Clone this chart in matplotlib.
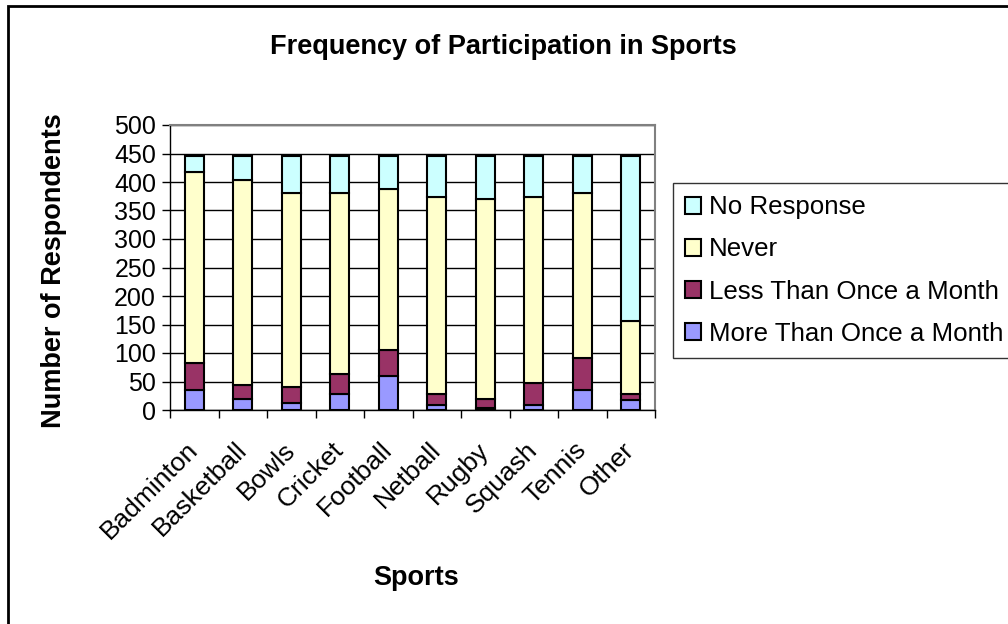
import numpy as np
import matplotlib.pyplot as plt
from matplotlib.patches import Rectangle

plt.rcParams['font.family'] = ['Liberation Sans', 'DejaVu Sans']

# Data
sports = ["Badminton", "Basketball", "Bowls", "Cricket", "Football",
          "Netball", "Rugby", "Squash", "Tennis", "Other"]
more_than_once = [35, 19, 13, 28, 60, 9, 3, 9, 35, 18]
less_than_once = [48, 25, 28, 35, 45, 19, 16, 38, 57, 10]
never = [334, 359, 340, 318, 282, 346, 352, 327, 289, 129]
no_response = [28, 42, 64, 64, 58, 71, 74, 71, 64, 288]

colors = {"More Than Once a Month": "#9999FF",
          "Less Than Once a Month": "#993366",
          "Never": "#FFFFCC",
          "No Response": "#CCFFFF"}

fig = plt.figure(figsize=(10.08, 6.24), dpi=100)
ax = fig.add_axes([170/1008, 1-410/624, 485/1008, 285/624])

x = np.arange(len(sports))
bottom = np.zeros(len(sports))
handles = []
for name, vals in [("More Than Once a Month", more_than_once),
                   ("Less Than Once a Month", less_than_once),
                   ("Never", never),
                   ("No Response", no_response)]:
    b = ax.bar(x, vals, bottom=bottom, width=0.39, color=colors[name],
               edgecolor='black', linewidth=1.5, label=name, zorder=3)
    handles.append(b)
    bottom += np.array(vals)

ax.set_xlim(-0.5, len(sports) - 0.5)
ax.set_ylim(0, 500)
ax.set_yticks(np.arange(0, 501, 50))
ax.yaxis.grid(True, color='black', linewidth=1, zorder=0)
ax.set_axisbelow(True)

ax.set_xticks(x)
ax.set_xticklabels(sports, rotation=45, ha='right', va='center',
                   rotation_mode='anchor', fontsize=19)
ax.set_xticks(np.arange(-0.5, len(sports)), minor=True)
ax.tick_params(axis='x', which='major', length=0, pad=26)
ax.tick_params(axis='x', which='minor', length=6, direction='out', width=1)
ax.tick_params(axis='y', labelsize=18, length=6, direction='out', width=1, pad=4)

for s in ['top', 'right']:
    ax.spines[s].set_color('#808080')
    ax.spines[s].set_linewidth(1.5)
for s in ['left', 'bottom']:
    ax.spines[s].set_color('black')
    ax.spines[s].set_linewidth(1)

fig.text(503/1008, 1 - 47/624, "Frequency of Participation in Sports",
         ha='center', va='center', fontsize=19.5, fontweight='bold')
fig.text(416/1008, 1 - 578/624, "Sports", ha='center', va='center',
         fontsize=19.5, fontweight='bold')
fig.text(54/1008, 1 - 271/624, "Number of Respondents", ha='center', va='center',
         rotation=90, fontsize=19.5, fontweight='bold')

leg = fig.legend(handles[::-1], [h.get_label() for h in handles[::-1]],
                 loc='upper left', bbox_to_anchor=(673/1008, 1 - 183/624),
                 fontsize=18.6, frameon=True, fancybox=False, edgecolor='black',
                 handlelength=0.62, handleheight=0.62, handletextpad=0.3,
                 labelspacing=0.7, borderpad=0.48, borderaxespad=0)
leg.get_frame().set_linewidth(1)

# outer chart border
fig.patches.append(Rectangle((8/1008, -0.1), 1.2, 1 - 6/624 + 0.1,
                             transform=fig.transFigure, fill=False,
                             edgecolor='black', linewidth=2))

fig.savefig("out.png", dpi=100)
